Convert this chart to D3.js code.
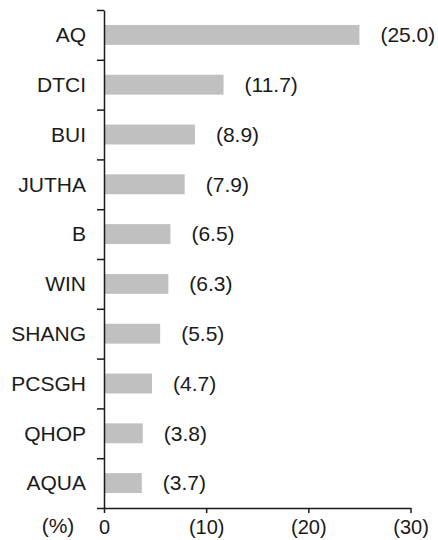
<!DOCTYPE html>
<html>
<head>
<meta charset="utf-8">
<script src="https://cdn.jsdelivr.net/npm/d3@7"></script>
<style>
    body { margin: 0; background: #fff; }
    text { font-family: Arial, "Liberation Sans", sans-serif; }
</style>
</head>
<body>
<div id="chart"></div>
<script>
const categories = ["AQ", "DTCI", "BUI", "JUTHA", "B", "WIN", "SHANG", "PCSGH", "QHOP", "AQUA"];
const values = [25.0, 11.7, 8.9, 7.9, 6.5, 6.3, 5.5, 4.7, 3.8, 3.7];
const xTicks = [0, 10, 20, 30];
const unitLabel = "(%)";

const width = 438, height = 540;
const plot = { left: 104, right: 410.5, top: 10, bottom: 508 };
const fontSize = 21;
const ink = "#1a1a1a";

const svg = d3.select("#chart")
    .append("svg")
    .attr("width", width)
    .attr("height", height);

const x = d3.scaleLinear()
    .domain([0, 30])
    .range([plot.left, plot.right]);

const y = d3.scaleBand()
    .domain(categories)
    .range([plot.top, plot.bottom])
    .paddingInner(0.6)
    .paddingOuter(0.3);

// bars
svg.selectAll("rect.bar")
    .data(categories)
    .enter()
    .append("rect")
    .attr("class", "bar")
    .attr("x", x(0))
    .attr("y", d => y(d))
    .attr("width", (d, i) => x(values[i]) - x(0))
    .attr("height", y.bandwidth())
    .attr("fill", "#c0c0c0");

// value labels
svg.selectAll("text.val")
    .data(categories)
    .enter()
    .append("text")
    .attr("class", "val")
    .attr("x", (d, i) => x(values[i]) + 21)
    .attr("y", d => y(d) + y.bandwidth() / 2)
    .attr("dy", "0.35em")
    .attr("font-size", fontSize)
    .attr("fill", ink)
    .text((d, i) => `(${values[i].toFixed(1)})`);

// y axis: ticks at band boundaries
const yEdges = d3.scaleLinear()
    .domain([0, categories.length])
    .range([plot.top, plot.bottom]);

const yAxis = svg.append("g")
    .attr("transform", `translate(${plot.left},0)`)
    .call(d3.axisLeft(yEdges)
        .tickValues(d3.range(categories.length + 1))
        .tickFormat("")
        .tickSize(7)
        .tickSizeOuter(0));
yAxis.select(".domain").attr("stroke", ink).attr("stroke-width", 1.5);
yAxis.selectAll(".tick line").attr("stroke", ink).attr("stroke-width", 1.5);

// category labels
svg.selectAll("text.cat")
    .data(categories)
    .enter()
    .append("text")
    .attr("class", "cat")
    .attr("x", plot.left - 18)
    .attr("y", d => y(d) + y.bandwidth() / 2)
    .attr("dy", "0.35em")
    .attr("text-anchor", "end")
    .attr("font-size", fontSize)
    .attr("fill", ink)
    .text(d => d);

// x axis
const xAxis = svg.append("g")
    .attr("transform", `translate(0,${plot.bottom})`)
    .call(d3.axisBottom(x)
        .tickValues(xTicks)
        .tickFormat(d => d === 0 ? "0" : `(${d})`)
        .tickSize(5)
        .tickSizeOuter(0)
        .tickPadding(6.5));
xAxis.select(".domain").attr("stroke", ink).attr("stroke-width", 1.5);
xAxis.selectAll(".tick line").attr("stroke", ink).attr("stroke-width", 1.5);
xAxis.selectAll(".tick text")
    .attr("font-size", 20)
    .attr("font-family", "Arial, 'Liberation Sans', sans-serif")
    .attr("fill", ink);

svg.append("text")
    .attr("x", 58)
    .attr("y", 533)
    .attr("text-anchor", "middle")
    .attr("font-size", fontSize)
    .attr("fill", ink)
    .text(unitLabel);
</script>
</body>
</html>
